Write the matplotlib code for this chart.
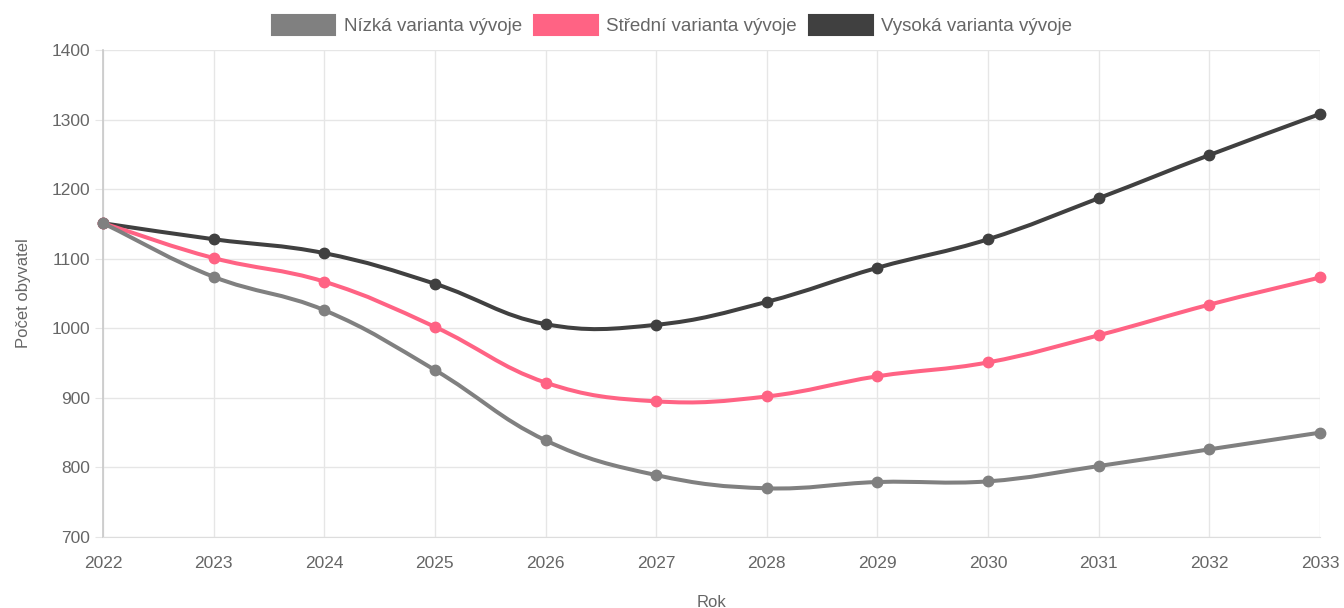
import numpy as np
import matplotlib.pyplot as plt
from matplotlib.path import Path
from matplotlib.patches import PathPatch, Patch

plt.rcParams["font.family"] = ["Liberation Sans", "DejaVu Sans"]

years = [2022, 2023, 2024, 2025, 2026, 2027, 2028, 2029, 2030, 2031, 2032, 2033]
low = [1151, 1074, 1026, 940, 839, 789, 770, 779, 780, 802, 826, 850]
mid = [1151, 1101, 1067, 1002, 922, 895, 902, 931, 951, 990, 1034, 1073]
high = [1151, 1128, 1108, 1064, 1006, 1005, 1038, 1087, 1128, 1187, 1249, 1308]

labels = ["Nízká varianta vývoje", "Střední varianta vývoje", "Vysoká varianta vývoje"]
colors = ["#808080", "#ff6384", "#404040"]

TEXT = "#666666"
GRID = "#e6e6e6"

fig = plt.figure(figsize=(13.44, 6.08), dpi=100)
ax = fig.add_axes([103 / 1344, 1 - 537 / 608, (1320 - 103) / 1344, (537 - 50) / 608])
ax.set_xlim(2022, 2033)
ax.set_ylim(700, 1400)

# pixel scale, used for spline point distances (Chart.js style, tension 0.4)
sx = (1320 - 103) / 11.0
sy = (537 - 50) / 700.0


def spline_path(xs, ys, t=0.4):
    px = np.array(xs, float) * sx
    py = np.array(ys, float) * sy
    n = len(px)
    cprev = []
    cnext = []
    for i in range(n):
        a = max(i - 1, 0)
        b = min(i + 1, n - 1)
        d01 = np.hypot(px[i] - px[a], py[i] - py[a])
        d12 = np.hypot(px[b] - px[i], py[b] - py[i])
        tot = d01 + d12
        s01 = d01 / tot if tot else 0
        s12 = d12 / tot if tot else 0
        fa, fb = t * s01, t * s12
        cprev.append((px[i] - fa * (px[b] - px[a]), py[i] - fa * (py[b] - py[a])))
        cnext.append((px[i] + fb * (px[b] - px[a]), py[i] + fb * (py[b] - py[a])))
    verts = [(px[0], py[0])]
    codes = [Path.MOVETO]
    for i in range(1, n):
        verts += [cnext[i - 1], cprev[i], (px[i], py[i])]
        codes += [Path.CURVE4] * 3
    verts = [(x / sx, min(max(y / sy, 700), 1400)) for x, y in verts]
    return Path(verts, codes)


# first dataset ends up on top, like in the original
series = [low, mid, high]
for k, (ys, c) in enumerate(zip(series, colors)):
    z = 10 - 2 * k
    ax.add_patch(PathPatch(spline_path(years, ys), fill=False, edgecolor=c,
                           lw=2.9, capstyle="round", joinstyle="round", zorder=z))
    ax.plot(years, ys, "o", color=c, markersize=7.5, zorder=z + 1, clip_on=False)

ax.set_xticks(years)
ax.set_yticks(range(700, 1401, 100))
ax.grid(True, color=GRID, linewidth=1)
ax.set_axisbelow(True)
for side in ["top", "right"]:
    ax.spines[side].set_visible(False)
ax.spines["left"].set_color("#c8c8c8")
ax.spines["bottom"].set_color("#dddddd")
ax.spines["left"].set_linewidth(1.2)
ax.tick_params(axis="y", length=6, color=GRID, pad=3, labelsize=12.5, labelcolor=TEXT)
ax.tick_params(axis="x", length=0, pad=14, labelsize=12.5, labelcolor=TEXT)

ax.set_ylabel("Počet obyvatel", fontsize=12, color=TEXT, labelpad=15)
ax.set_xlabel("Rok", fontsize=12, color=TEXT, labelpad=17)

handles = [Patch(facecolor=c, edgecolor=c, linewidth=1.5) for c in colors]
fig.legend(handles, labels, loc="center", bbox_to_anchor=(0.5, 1 - 25 / 608), ncol=3,
           frameon=False, fontsize=13.5, labelcolor=TEXT, handlelength=3.4,
           handleheight=1.3, handletextpad=0.45, columnspacing=0.65)

fig.savefig("out.png", dpi=100)
